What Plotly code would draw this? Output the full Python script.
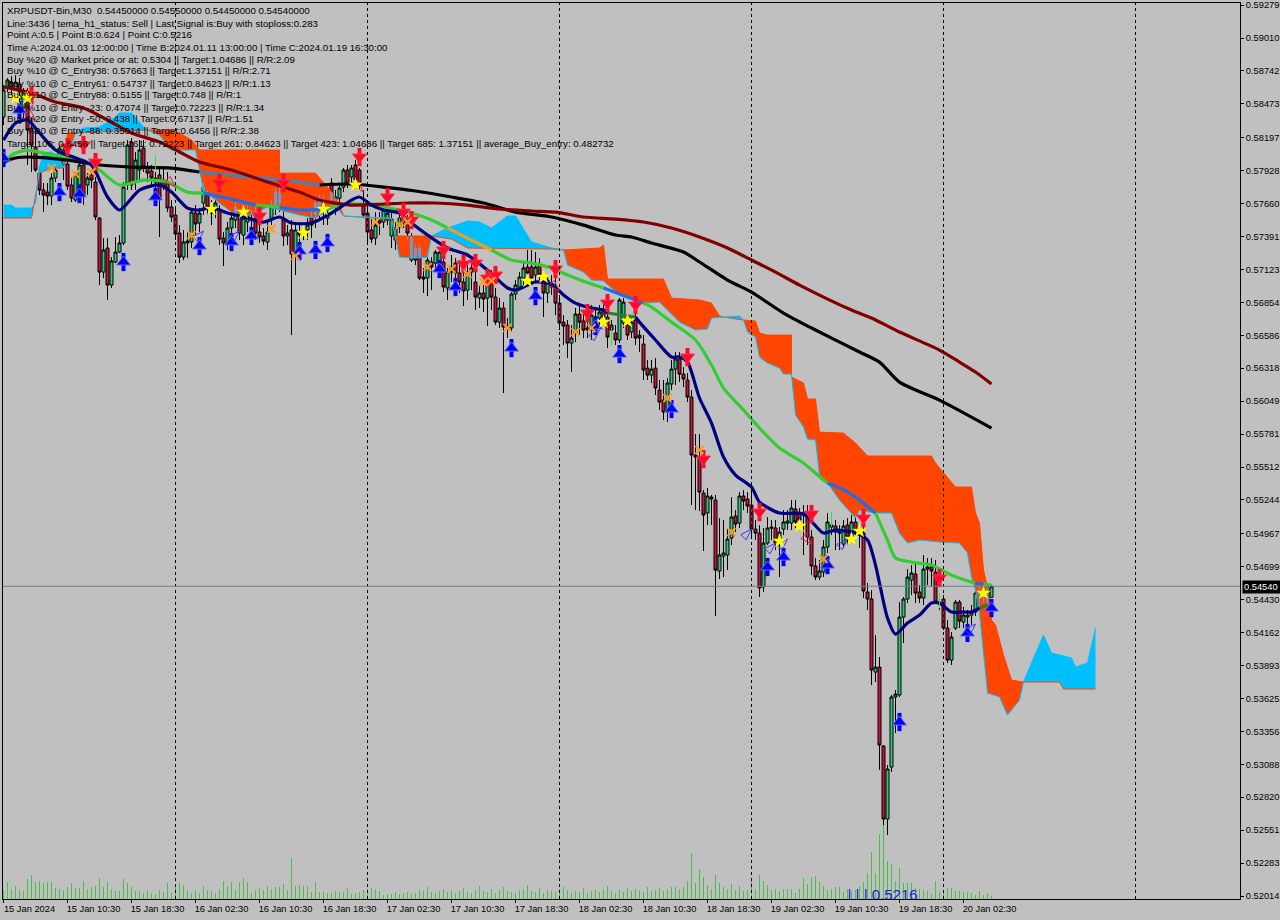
import numpy as np
import plotly.graph_objects as go

# ---- price data, in 1e-5 price points ----
opens_pts = [58366,58602,58651,58586,58635,58439,58537,58276,58121,57909,
57771,57754,57722,57869,57958,57975,57983,57812,57689,57812,
57975,57812,57893,57836,57542,57102,57298,56996,57184,57265,
57339,57828,58162,57836,57934,58113,57958,57926,57836,57893,
57852,57836,57632,57567,57420,57224,57355,57347,57583,57502,
57665,57730,57632,57608,57608,57379,57339,57461,57526,57542,
57404,57510,57542,57542,57428,57396,57347,57542,57648,57746,
57542,57396,57445,57241,57428,57404,57445,57551,57567,57632,
57591,57542,57828,57714,57705,57795,57934,57877,57975,57934,
57648,57583,57445,57379,57526,57510,57526,57396,57363,57469,
57551,57502,57200,57298,57298,57061,57053,57184,57175,57175,
57184,56972,57143,57175,57094,57021,56955,57135,57021,56890,
56931,56890,57021,56898,56694,56809,56662,56646,56923,56980,
57053,57143,57143,57078,57151,57037,56931,57012,56980,56849,
56694,56670,56523,56605,56760,56703,56646,56629,56727,56727,
56792,56735,56670,56605,56548,56686,56670,56613,56711,56588,
56515,56319,56262,56319,56140,56058,55961,56189,56311,56393,
56270,56222,56083,55610,55594,55300,55137,55267,55243,54664,
54786,54795,54933,55113,55055,55276,55251,55202,55006,54974,
54534,54892,55023,55015,54892,55006,55055,55055,55170,55137,
55137,55137,54941,54705,54615,54656,54860,55023,55031,54982,
54884,55039,54941,55064,54998,54974,54493,54436,53841,53881,
53237,52642,53066,53637,53653,54289,54436,54591,54640,54493,
54444,54680,54697,54656,54403,54436,54199,53938,54199,54411,
54248,54289,54305,54330,54468,54493,54526,54450]
closes_pts = [58586,58668,58602,58651,58570,58570,58260,58138,57934,57771,
57730,57722,57869,57934,58113,58097,57803,57705,57893,57975,
57730,57869,57852,57551,57102,57282,56996,57192,57265,57339,
57795,58138,57812,58015,58097,57958,57909,57869,57869,57705,
57795,57624,57551,57412,57224,57347,57339,57591,57494,57583,
57795,57632,57583,57665,57371,57339,57461,57542,57632,57420,
57542,57567,57526,57420,57388,57355,57428,57632,57754,57665,
57396,57420,57249,57445,57404,57428,57485,57485,57665,57705,
57665,57583,57689,57689,57787,57934,57828,57950,57852,57828,
57567,57428,57371,57485,57502,57608,57583,57534,57461,57542,
57502,57420,57388,57200,57053,57045,57200,57143,57265,57265,
56980,57102,57102,57094,57021,56947,57102,57102,56898,56931,
56882,57021,56898,56694,56809,56654,56646,56923,56996,57061,
57135,57094,57053,57143,57078,56931,57037,56980,56849,56686,
56662,56523,56564,56760,56694,56629,56629,56751,56735,56776,
56735,56572,56629,56548,56874,56857,56588,56694,56564,56564,
56303,56262,56311,56156,56042,55961,56197,56311,56393,56270,
56230,56083,55610,55594,55308,55121,55276,55251,54672,54795,
54811,54925,55104,55047,55276,55235,55194,55006,54974,54526,
54892,55015,55015,54892,54982,55064,55072,55178,55064,55080,
55121,54941,54705,54615,54664,54860,55064,55039,54982,54974,
55031,54941,55064,54998,54982,54501,54436,53857,53881,53245,
52642,53050,53637,53661,54289,54436,54615,54648,54485,54444,
54680,54697,54664,54411,54395,54199,53938,54126,54411,54256,
54305,54305,54330,54485,54493,54452,54411,54540]
highs_pts = [58627,58684,58700,58708,58684,58602,58602,58358,58260,57950,
57828,57828,57909,57975,58138,58138,57999,57877,57918,57991,
57991,57909,57934,57877,57551,57379,57379,57224,57388,57404,
57836,58178,58195,58081,58178,58178,57999,57975,57918,57950,
57942,57918,57689,57624,57485,57445,57428,57624,57648,57624,
57828,57771,57689,57705,57648,57428,57510,57591,57689,57591,
57648,57648,57608,57648,57485,57461,57510,57689,57787,57795,
57648,57485,57526,57485,57510,57461,57542,57608,57689,57730,
57730,57648,57869,57771,57812,57950,57975,57975,58015,57950,
57771,57648,57542,57591,57591,57648,57624,57583,57510,57567,
57608,57567,57420,57322,57322,57135,57257,57224,57282,57298,
57241,57135,57241,57216,57200,57118,57184,57216,57118,56996,
56996,57102,57118,56972,56890,56857,56727,56939,57037,57102,
57184,57282,57282,57265,57216,57102,57078,57078,57053,56915,
56751,56711,56670,56809,56833,56792,56711,56833,56809,56833,
56857,56833,56711,56670,56890,56890,56727,56751,56776,56629,
56588,56385,56385,56401,56222,56222,56238,56385,56450,56450,
56327,56279,56140,55781,55781,55324,55341,55284,55284,55096,
55080,55015,55267,55161,55308,55324,55308,55365,55080,55039,
55015,55104,55080,55080,55023,55161,55161,55243,55243,55178,
55202,55202,54998,54770,54754,54917,55137,55121,55080,55039,
55080,55096,55121,55121,55039,55039,54566,54509,54142,53963,
53245,53082,53653,53694,54411,54452,54680,54713,54737,54550,
54795,54770,54770,54754,54428,54468,54264,54167,54428,54428,
54371,54346,54387,54509,54550,54550,54550,54550]
lows_pts = [58301,58570,58545,58505,58439,58358,57975,57918,57918,57730,
57591,57648,57648,57836,57950,57852,57771,57673,57673,57795,
57648,57730,57787,57526,56996,57053,56874,56972,57175,57257,
57322,57771,57771,57771,57852,57918,57836,57812,57771,57388,
57771,57591,57510,57363,57175,57200,57216,57298,57404,57428,
57567,57567,57485,57542,57322,57151,57282,57363,57461,57363,
57322,57428,57445,57363,57339,57322,57282,57485,57567,57591,
57314,57322,56588,57078,57322,57363,57363,57379,57461,57542,
57485,57485,57648,57567,57648,57754,57787,57828,57828,57771,
57542,57339,57339,57322,57404,57461,57485,57298,57282,57420,
57461,57363,57184,57159,57037,56931,56906,56955,57102,57078,
56939,56874,57021,56996,56931,56825,56874,56955,56792,56809,
56776,56662,56792,56670,56646,56115,56564,56613,56874,56955,
56996,56996,57012,57021,57037,56735,56849,56915,56751,56629,
56507,56401,56287,56531,56588,56564,56564,56548,56670,56670,
56694,56482,56507,56507,56523,56646,56548,56564,56507,56450,
56222,56222,56197,56099,55977,55895,55879,56140,56181,56205,
56164,56042,55202,55161,55153,54827,55039,55039,54297,54599,
54615,54672,54876,54982,55015,55161,55137,54950,54917,54452,
54493,54876,54917,54835,54615,54958,54998,54998,55015,55039,
54795,54876,54631,54591,54591,54615,54811,54958,54835,54835,
54852,54876,54917,54958,54852,54444,54346,53734,53759,53042,
52593,52511,53025,53343,53637,54077,54403,54468,54403,54403,
54387,54550,54534,54403,54346,54183,53914,53898,54183,54199,
54199,54224,54224,54297,54387,54403,54395,54450]
volume = [9,17,10,13,9,8,20,24,17,18,16,17,17,11,10,9,12,16,11,11,18,10,12,13,21,12,17,10,8,8,
20,16,12,8,8,6,9,6,5,9,7,16,6,13,17,14,9,6,9,6,13,9,8,6,10,18,13,17,9,17,
21,17,6,9,11,9,13,10,12,12,15,9,41,13,14,13,13,7,17,7,7,6,6,8,7,7,11,5,6,7,
9,10,11,10,8,4,5,5,7,5,
6,7,5,6,9,8,12,7,6,8,10,7,9,6,8,11,7,6,9,13,8,7,10,6,9,12,8,7,6,9,
10,14,8,7,11,6,9,8,7,10,12,9,6,8,7,11,6,8,9,7,10,13,8,6,9,7,11,8,10,9,
7,12,8,9,11,8,10,12,
12,10,12,18,46,16,30,22,14,10,24,16,12,10,15,9,13,8,9,20,10,24,18,14,9,10,8,
10,10,10,6,10,21,15,22,23,17,13,9,10,12,12,7,10,8,9,13,17,26,47,26,65,111,38,35,18,31,
16,16,16,11,10,9,8,5,18,7,9,11,11,8,8,7,7,6,4,8,4,6,3]

x_tick_idx = [0,16,32,48,64,80,96,112,128,144,160,176,192,208,224,240]
x_tick_labels = ["15 Jan 2024","15 Jan 10:30","15 Jan 18:30","16 Jan 02:30","16 Jan 10:30","16 Jan 18:30",
                 "17 Jan 02:30","17 Jan 10:30","17 Jan 18:30","18 Jan 02:30","18 Jan 10:30","18 Jan 18:30",
                 "19 Jan 02:30","19 Jan 10:30","19 Jan 18:30","20 Jan 02:30"]
y_tick_labels = ["0.59279","0.59010","0.58742","0.58473","0.58197","0.57928","0.57660","0.57391",
                 "0.57123","0.56854","0.56586","0.56318","0.56049","0.55781","0.55512","0.55244",
                 "0.54967","0.54699","0.54430","0.54162","0.53893","0.53625","0.53356","0.53088",
                 "0.52820","0.52551","0.52283","0.52014"]
separator_idx = [43,91,139,187,235,283]
last_price = 0.5454

# ---- Ichimoku spans (bar index, points) ----
span_a_i = [0,2,3,7,8,9,10,12,14,15,18,20,24,27,29,32,35,36,39,42,48,50,53,59,63,66,74,78,83,85,97,98,99,103,106,107,
            111,116,119,122,126,128,132,137,140,141,145,147,150,154,160,164,169,173,176,177,180,184,185,186,188,189,191,
            194,195,197,198,200,201,203,204,206,209,212,213,214,218,222,224,226,229,234,239,241,242,243,244,245,246,249,
            251,254,255,257,260,262,267,268,271,273]
span_a_pts = [57648,57648,57624,57624,57665,57958,58072,58081,58032,57950,58236,58276,58284,58342,58399,58399,58284,58260,
              58219,58097,58097,57771,57689,57542,57583,57632,57567,57542,57648,57559,57542,57396,57224,57216,57224,57396,
              57461,57518,57510,57461,57559,57559,57347,57298,57282,57159,57102,57037,57029,56915,56849,56857,56694,56629,
              56637,56727,56735,56743,56711,56613,56572,56409,56360,56319,56270,56270,55936,55838,55740,55732,55447,55382,
              55243,55137,55096,55161,55137,55137,54974,54892,54917,54900,54892,54811,54615,54509,54322,53995,53669,53637,
              53490,53612,53759,53914,54142,53995,53955,53881,53914,54199]
span_b_i = [0,7,9,12,15,16,18,25,36,42,44,47,49,69,69,78,80,82,84,85,97,98,107,112,116,137,140,149,150,151,165,167,174,177,
            179,180,185,188,189,191,197,197,200,201,203,204,210,213,216,232,233,238,242,243,244,245,246,247,248,250,252,255,
            264,265,273]
span_b_pts = [57542,57542,57909,57950,57950,58236,58236,58244,58260,58260,58236,58178,58097,58097,57909,57909,57828,57754,
              57648,57559,57534,57396,57396,57371,57298,57290,57282,57298,57322,57045,57045,56890,56874,56849,56743,56735,
              56711,56703,56605,56588,56588,56246,56197,56067,56067,55797,55789,55708,55602,55602,55545,55349,55349,55137,
              55055,54672,54533,54264,54224,53979,53775,53759,53759,53702,53702]
cloud_blue_runs = [(0,15),(18,36),(85,98),(107,140),(180,185),(255,273)]
cloud_orange_runs = [(15,18),(36,85),(98,107),(140,180),(185,255)]

# ---- moving averages (bar index, points) ----
green_runs = [
 ([0,2,6,10,15,22,24,29,35,41,46,50],[57975,58056,58097,58072,58040,57975,57934,57812,57852,57836,57754,57746]),
 ([63,69],[57648,57632]),
 ([81,84,89,95,102,107,111],[57616,57648,57657,57632,57583,57526,57461]),
 ([122,127,132,137,141,147,150],[57282,57200,57175,57135,57078,57004,56972]),
 ([160,162,167,173,177,180,185,189,194,200,205,206],[56849,56817,56694,56548,56344,56156,55977,55830,55667,55545,55406,55382]),
 ([218,221,223,227,232,237,242,243],[55137,54917,54770,54737,54713,54631,54574,54566]),
 ([245,247],[54558,54550]),
]
green_on_orange = [
 ([50,57,63],[57746,57697,57648]),
 ([69,74,81],[57632,57608,57616]),
 ([150,160],[56972,56849]),
 ([206,209,211,213,218],[55382,55341,55308,55267,55137]),
 ([243,245],[54566,54558]),
]
green_on_blue = [([111,116,122],[57461,57379,57282])]
black_runs = [
 ([0,3,7,16,24,32,42,49],[57999,58032,58040,58015,57975,57958,57950,57918]),
 ([79,87,95,103,112,120,128,137,145,153,157,162,170,174,181,187,195,202,214,219,224,234,247],
  [57812,57820,57795,57763,57714,57665,57591,57551,57485,57404,57388,57339,57265,57184,57037,56939,56768,56646,56450,56368,56205,56058,55830]),
]
black_on_orange = [([49,54,64,72,79],[57918,57901,57869,57844,57812])]
maroon_i = [0,7,13,20,26,32,39,44,49,57,66,74,79,87,95,101,108,116,124,132,138,145,153,160,167,174,181,187,193,199,212,217,224,234,239,243,247]
maroon_pts = [58611,58562,58488,58439,58342,58236,58162,58081,57999,57934,57836,57754,57689,57648,57657,57665,57665,57648,57616,57600,57591,57551,57534,57510,57461,57388,57298,57200,57102,56996,56792,56727,56613,56466,56368,56287,56189]
navy_runs = [
 ([0,3,6,9,13,18,22,26,29,34,39,42,46,49,52,56,60,65,69,72,77,82,87,89,92,95,99,102,106,111,116,121,126,128,133,137,140,143,147,150,151],
  [58178,58317,58342,58236,58097,58032,57975,57714,57608,57771,57812,57754,57624,57608,57632,57583,57551,57510,57551,57502,57502,57583,57689,57714,57648,57608,57583,57502,57404,57298,57241,57118,56972,56955,57021,57004,56915,56849,56809,56792,56768]),
 ([158,159,163,167,169,171,174,177,180,183,187,189,194,200,205,208,213,216,218,219,221,223,226,229,232,234,237,240,242,244],
  [56735,56694,56548,56409,56409,56368,56075,55871,55594,55447,55349,55227,55137,55129,54974,54998,54974,54917,54713,54566,54281,54150,54240,54305,54403,54403,54330,54330,54330,54362]),
]
navy_on_orange = [([151,158],[56768,56735]),([244,246],[54362,54387])]

# ---- signal markers (bar index, points) ----
red_arrow_i = [7,16,20,23,54,64,70,89,96,100,102,110,115,118,121,123,138,146,151,158,171,175,189,202,215,234]
red_arrow_pts = [58545,58121,58138,57999,57828,57559,57828,58040,57714,57591,57526,57282,57167,57175,57053,57078,57127,56768,56849,56833,56409,55577,55145,55129,55096,54607]
blue_arrow_i = [0,4,14,19,30,38,49,57,62,74,78,81,109,113,127,133,148,154,167,191,195,206,224,241,247]
blue_arrow_pts = [58032,58423,57754,57738,57184,57714,57314,57347,57396,57273,57282,57339,57127,56980,56482,56906,56662,56433,55985,54697,54778,54713,53433,54159,54362]
star_i = [3,6,52,60,75,80,88,131,135,150,156,194,199,212,214,245]
star_pts = [58521,58521,57616,57591,57420,57616,57812,57029,57061,56694,56703,54909,55031,54925,54990,54485]
cross_i = [12,18,22,47,67,73,93,99,101,106,112,116,120,122,126,143,147,166,174,182,205]
cross_pts = [57950,57901,57918,57404,57453,57233,57510,57485,57510,57143,57127,57086,57021,57029,56646,56613,56646,56075,55651,54982,54762]
hollow_blue_i = [0,50,59,149,187,193,196,211,243]
hollow_blue_pts = [58342,57436,57436,56629,55006,54892,54925,54925,54232]
hollow_red_i = [8,43,65,90,139,202]
hollow_red_pts = [58342,57795,57518,57754,56947,54884]
tick_mark_i = [38,99,152,207,234]
tick_mark_top = [58056,57542,56646,55145,54485]
tick_mark_bottom = [57934,57469,56507,55023,54362]
point_c_text = "| | | 0.5216"
point_c_i = 211
point_c_pts = 52010

info_lines = [
 "XRPUSDT-Bin,M30  0.54450000 0.54550000 0.54450000 0.54540000",
 "Line:3436 | tema_h1_status: Sell | Last Signal is:Buy with stoploss:0.283",
 "Point A:0.5 | Point B:0.624 | Point C:0.5216",
 "Time A:2024.01.03 12:00:00 | Time B:2024.01.11 13:00:00 | Time C:2024.01.19 16:30:00",
 "Buy %20 @ Market price or at: 0.5304 || Target:1.04686 || R/R:2.09",
 "Buy %10 @ C_Entry38: 0.57663 || Target:1.37151 || R/R:2.71",
 "Buy %10 @ C_Entry61: 0.54737 || Target:0.84623 || R/R:1.13",
 "Buy %10 @ C_Entry88: 0.5155 || Target:0.748 || R/R:1",
 "Buy %10 @ Entry -23: 0.47074 || Target:0.72223 || R/R:1.34",
 "Buy %20 @ Entry -50: 0.438 || Target:0.67137 || R/R:1.51",
 "Buy %20 @ Entry -88: 0.35014 || Target:0.6456 || R/R:2.38",
 "Target 100: 0.6456 || Target 161: 0.72223 || Target 261: 0.84623 || Target 423: 1.04686 || Target 685: 1.37151 || average_Buy_entry: 0.482732",
]

# ---- styling ----
FONT = "Liberation Sans"
FS = 9.7
AXIS_FS = 9.3
SILVER = "#C0C0C0"
W, H = 1280, 920
L, R, T, B = 3, 40, 3, 21
ORANGE = "#FF4500"
SKY = "#00BFFF"
LW = 3.2

def P(v):
    return [x / 1e5 for x in v]

def join_runs(runs):
    xs, ys = [], []
    for a, b in runs:
        xs += list(a) + [None]
        ys += P(b) + [None]
    return xs, ys

fig = go.Figure()
n_bars = len(opens_pts)
idx = list(range(n_bars))

fig.add_trace(go.Bar(x=idx, y=volume, yaxis="y2", width=0.25, marker=dict(color="#44C044", opacity=0.99, line=dict(width=0))))
fig.add_trace(go.Candlestick(x=idx, open=P(opens_pts), high=P(highs_pts), low=P(lows_pts), close=P(closes_pts),
    whiskerwidth=0,
    increasing=dict(line=dict(color="black", width=1), fillcolor="#2EC878"),
    decreasing=dict(line=dict(color="black", width=1), fillcolor="#C8143C")))

def region(run):
    a0, a1 = run
    ax = [i for i in span_a_i if a0 <= i <= a1]
    ay = [p for i, p in zip(span_a_i, span_a_pts) if a0 <= i <= a1]
    bx = [i for i in span_b_i if a0 <= i <= a1]
    by = [p for i, p in zip(span_b_i, span_b_pts) if a0 <= i <= a1]
    return ax, ay, bx, by

for runs, colour in ((cloud_blue_runs, SKY), (cloud_orange_runs, ORANGE)):
    for run in runs:
        ax, ay, bx, by = region(run)
        fig.add_trace(go.Scatter(x=ax + bx[::-1], y=P(ay + by[::-1]), mode="lines", fill="toself",
                                 fillcolor=colour, line=dict(width=0, color=colour)))

# candle parts seen through the orange cloud
wx, wy, bx_, by_ = [], [], [], []
for run in cloud_orange_runs:
    ax, ay, bx, by = region(run)
    for i in range(run[0], min(run[1], n_bars - 1) + 1):
        lo = np.interp(i, ax, ay)
        hi = np.interp(i, bx, by)
        top, bot = min(highs_pts[i], hi), max(lows_pts[i], lo)
        if top > bot:
            wx += [i, i, None]; wy += [bot / 1e5, top / 1e5, None]
        top, bot = min(max(opens_pts[i], closes_pts[i]), hi), max(min(opens_pts[i], closes_pts[i]), lo)
        if top > bot:
            bx_ += [i, i, None]; by_ += [bot / 1e5, top / 1e5, None]
fig.add_trace(go.Scatter(x=wx, y=wy, mode="lines", line=dict(color="#6C98D4", width=1)))
fig.add_trace(go.Scatter(x=bx_, y=by_, mode="lines", line=dict(color="#6C98D4", width=3)))

# cloud edges
fig.add_trace(go.Scatter(x=span_b_i, y=P(span_b_pts), mode="lines", line=dict(color=ORANGE, width=1)))
fig.add_trace(go.Scatter(x=span_a_i, y=P(span_a_pts), mode="lines", line=dict(color=SKY, width=1)))

def add_runs(runs, colour, width=LW):
    xs, ys = join_runs(runs)
    fig.add_trace(go.Scatter(x=xs, y=ys, mode="lines", line=dict(color=colour, width=width, shape="spline", smoothing=0.7)))

add_runs(green_runs, "#32CD32")
add_runs(green_on_orange, "#1E6EE6")
add_runs(green_on_blue, "#E8A020")
add_runs(black_runs, "#000000")
add_runs(black_on_orange, "#4682B4")
fig.add_trace(go.Scatter(x=maroon_i, y=P(maroon_pts), mode="lines",
                         line=dict(color="#800000", width=LW, shape="spline", smoothing=0.7)))
add_runs(navy_runs, "#000080")
add_runs(navy_on_orange, "#2E7D32")

# thin green tick marks
tx, ty = [], []
for i, a, b in zip(tick_mark_i, tick_mark_top, tick_mark_bottom):
    tx += [i, i, None]; ty += [a / 1e5, b / 1e5, None]
fig.add_trace(go.Scatter(x=tx, y=ty, mode="lines", line=dict(color="#32E032", width=1)))

def arrow(xs, ys, colour, halo, sym):
    fig.add_trace(go.Scatter(x=xs, y=P(ys), mode="markers",
        marker=dict(symbol="line-ns", size=13, line=dict(color=colour, width=4))))
    fig.add_trace(go.Scatter(x=xs, y=P(ys), mode="markers",
        marker=dict(symbol=sym, size=12, color=colour, line=dict(color=halo, width=1))))

arrow(red_arrow_i, red_arrow_pts, "#FF0A28", "#FF2A48", "triangle-down")
arrow(blue_arrow_i, blue_arrow_pts, "#0000FF", "#6A6AE8", "triangle-up")
fig.add_trace(go.Scatter(x=hollow_blue_i, y=P(hollow_blue_pts), mode="markers",
    marker=dict(symbol="arrow-open", angle=45, size=12, color="#3C3CF0", line=dict(color="#3C3CF0", width=1))))
fig.add_trace(go.Scatter(x=hollow_red_i, y=P(hollow_red_pts), mode="markers",
    marker=dict(symbol="arrow-open", angle=135, size=12, color="#F02040", line=dict(color="#F02040", width=1))))
fig.add_trace(go.Scatter(x=cross_i, y=P(cross_pts), mode="markers",
    marker=dict(symbol="x-thin", size=8, line=dict(color="#FF9A1E", width=2))))
fig.add_trace(go.Scatter(x=star_i, y=P(star_pts), mode="markers",
    marker=dict(symbol="star", size=11, color="#FFFF00", line=dict(width=0))))
fig.add_trace(go.Scatter(x=[point_c_i], y=[point_c_pts / 1e5], mode="text", text=[point_c_text],
    textposition="middle right", cliponaxis=True,
    textfont=dict(family="Liberation Sans", size=15, color="#1818F0")))

# px <-> paper helpers for layout items
pw, ph = W - L - R, H - T - B
def px(xp): return (xp - L) / pw
def py(yp): return 1 - (yp - T) / ph

info_y = [10, 23, 35, 47, 59, 71, 83, 95, 107, 119, 131, 143]
annotations = [dict(xref="paper", yref="paper", x=px(6), y=py(yy), xanchor="left", yanchor="middle",
                    text=t, showarrow=False, align="left", font=dict(family=FONT, size=FS, color="black"),
                    borderpad=0) for t, yy in zip(info_lines, info_y)]
annotations.append(dict(xref="paper", yref="paper", x=px(1242), y=py(586.5), xanchor="left", yanchor="middle",
                        text="0.54540", showarrow=False, bgcolor="black", borderpad=1, width=36, align="left",
                        font=dict(family=FONT, size=AXIS_FS, color="white")))

shapes = [dict(type="line", xref="x", yref="paper", x0=s, x1=s, y0=0, y1=1,
               line=dict(color="black", width=1, dash="3px,3px")) for s in separator_idx]
shapes.append(dict(type="line", xref="paper", yref="y", x0=0, x1=1, y0=last_price, y1=last_price,
                   line=dict(color="#708090", width=1)))

x_low = (L - 3.5) / 4
x_high = (W - R - 3.5) / 4
fig.update_layout(
    width=W, height=H, autosize=False,
    margin=dict(l=L, r=R, t=T, b=B, pad=0),
    paper_bgcolor=SILVER, plot_bgcolor=SILVER,
    showlegend=False, hovermode=False, bargap=0, boxgap=0.25, boxgroupgap=0,
    font=dict(family=FONT, size=FS, color="black"),
    annotations=annotations, shapes=shapes,
    xaxis=dict(range=[x_low, x_high], rangeslider=dict(visible=False), showgrid=False, zeroline=False,
               automargin=False, ticklabeloverflow="allow",
               tickmode="array", tickvals=x_tick_idx, ticktext=x_tick_labels, ticks="outside", ticklen=3,
               tickcolor="black", showline=True, linecolor="black", linewidth=1, mirror=True,
               ticklabelshift=26, ticklabelstandoff=-2, tickfont=dict(family=FONT, size=AXIS_FS, color="black")),
    yaxis=dict(range=[0.51990, 0.59296], overlaying="y2", side="right", showgrid=False, zeroline=False,
               automargin=False, ticklabeloverflow="allow",
               tickmode="array", tickvals=[float(s) for s in y_tick_labels], ticktext=y_tick_labels,
               ticks="outside", ticklen=3, tickcolor="black", showline=True, linecolor="black", linewidth=1,
               mirror=True, tickfont=dict(family=FONT, size=AXIS_FS, color="black")),
    yaxis2=dict(range=[0, 896], visible=False, showgrid=False, zeroline=False, automargin=False),
)
fig.write_html("out.html", config=dict(displayModeBar=False),
               post_script="document.body.style.margin='0';document.body.style.overflow='hidden';document.body.style.background='#C0C0C0';")
